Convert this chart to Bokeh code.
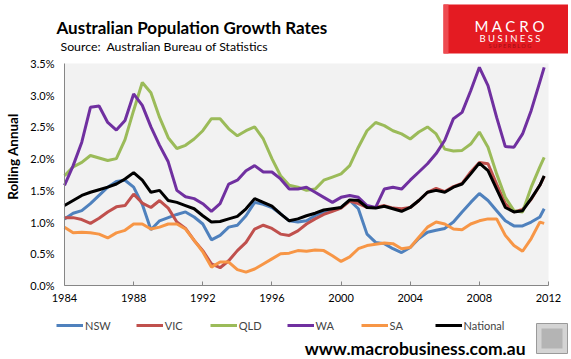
import math
from bokeh.plotting import figure
from bokeh.models import (Range1d, FixedTicker, PrintfTickFormatter, Label,
                          Legend, LegendItem, BoxAnnotation)
from bokeh.embed import file_html
from bokeh.resources import INLINE

years = [1984.0 + 0.5 * i for i in range(56)] + [2011.75]

nsw = [1.05, 1.14, 1.18, 1.29, 1.42, 1.55, 1.64, 1.66, 1.55, 1.28,
       0.88, 1.02, 1.07, 1.12, 1.16, 1.08, 0.97, 0.72, 0.79, 0.92,
       0.95, 1.10, 1.31, 1.28, 1.23, 1.13, 1.02, 1.00, 1.02, 1.10,
       1.16, 1.18, 1.23, 1.34, 1.21, 0.81, 0.68, 0.66, 0.58, 0.52,
       0.60, 0.74, 0.84, 0.87, 0.90, 1.00, 1.16, 1.31, 1.45, 1.34,
       1.18, 1.02, 0.94, 0.94, 1.00, 1.08, 1.21]
vic = [1.07, 1.07, 1.04, 0.98, 1.06, 1.16, 1.24, 1.26, 1.44, 1.30,
       1.23, 1.34, 1.22, 1.00, 0.90, 0.71, 0.55, 0.34, 0.28, 0.39,
       0.55, 0.68, 0.89, 0.95, 0.90, 0.81, 0.79, 0.86, 0.97, 1.05,
       1.12, 1.17, 1.22, 1.33, 1.29, 1.23, 1.23, 1.26, 1.22, 1.21,
       1.23, 1.34, 1.47, 1.53, 1.48, 1.56, 1.61, 1.79, 1.94, 1.92,
       1.60, 1.29, 1.16, 1.20, 1.36, 1.58, 1.72]
qld = [1.73, 1.87, 1.94, 2.05, 2.01, 1.97, 2.00, 2.30, 2.76, 3.20,
       3.04, 2.65, 2.33, 2.16, 2.21, 2.31, 2.44, 2.63, 2.63, 2.47,
       2.36, 2.44, 2.50, 2.31, 2.00, 1.73, 1.58, 1.55, 1.50, 1.52,
       1.66, 1.71, 1.76, 1.89, 2.18, 2.44, 2.57, 2.52, 2.44, 2.39,
       2.31, 2.42, 2.50, 2.39, 2.15, 2.12, 2.13, 2.23, 2.42, 2.18,
       1.76, 1.39, 1.18, 1.16, 1.55, 1.87, 2.02]
wa = [1.58, 1.89, 2.26, 2.81, 2.83, 2.57, 2.45, 2.60, 3.02, 2.84,
      2.50, 2.21, 1.95, 1.50, 1.40, 1.37, 1.29, 1.17, 1.29, 1.60,
      1.66, 1.81, 1.89, 1.79, 1.79, 1.68, 1.52, 1.52, 1.55, 1.47,
      1.39, 1.31, 1.39, 1.42, 1.39, 1.26, 1.23, 1.52, 1.55, 1.52,
      1.66, 1.79, 1.92, 2.08, 2.29, 2.63, 2.73, 3.07, 3.44, 3.15,
      2.65, 2.19, 2.18, 2.39, 2.76, 3.21, 3.44]
sa = [0.92, 0.83, 0.84, 0.83, 0.81, 0.75, 0.83, 0.87, 0.97, 0.97,
      0.89, 0.92, 0.97, 0.97, 0.89, 0.71, 0.53, 0.29, 0.37, 0.37,
      0.25, 0.21, 0.26, 0.34, 0.42, 0.50, 0.51, 0.55, 0.54, 0.56,
      0.55, 0.47, 0.38, 0.45, 0.58, 0.63, 0.65, 0.67, 0.66, 0.58,
      0.60, 0.76, 0.92, 1.00, 0.97, 0.89, 0.88, 0.97, 1.02, 1.05,
      1.05, 0.79, 0.63, 0.54, 0.74, 1.00, 0.98]
national = [1.26, 1.34, 1.42, 1.47, 1.51, 1.55, 1.60, 1.68, 1.78, 1.66,
            1.47, 1.50, 1.34, 1.31, 1.26, 1.21, 1.10, 1.00, 1.01, 1.05,
            1.09, 1.21, 1.37, 1.31, 1.25, 1.13, 1.02, 1.05, 1.10, 1.14,
            1.19, 1.21, 1.23, 1.35, 1.34, 1.23, 1.22, 1.25, 1.21, 1.17,
            1.23, 1.34, 1.47, 1.50, 1.47, 1.55, 1.60, 1.76, 1.93, 1.81,
            1.52, 1.23, 1.16, 1.18, 1.37, 1.58, 1.73]

series_names = ["NSW", "VIC", "QLD", "WA", "SA", "National"]
series_values = [nsw, vic, qld, wa, sa, national]
series_colors = ["#4f81bd", "#c0504d", "#9bbb59", "#7030a0", "#f79646", "#000000"]

x_ticks = [1984, 1988, 1992, 1996, 2000, 2004, 2008, 2012]
y_ticks = [0.0, 0.5, 1.0, 1.5, 2.0, 2.5, 3.0, 3.5]

title_text = "Australian Population Growth Rates"
subtitle_text = "Source:\u00a0 Australian Bureau of Statistics"
y_label = "Rolling Annual"
url_text = "www.macrobusiness.com.au"

FONT = "Lato"

# ---- canvas geometry (pixels, y from the top) ----
W, H = 568, 358
PL, PR, PT, PB = 64, 548, 63, 285

x0, x1 = x_ticks[0], x_ticks[-1]
y0, y1 = y_ticks[0], y_ticks[-1]
kx = (x1 - x0) / (PR - PL)
ky = (y1 - y0) / (PB - PT)
x_range = Range1d(x0 - PL * kx, x1 + (W - PR) * kx)
y_range = Range1d(y0 - (H - PB) * ky, y1 + PT * ky)

p = figure(width=W, height=H, output_backend="svg", toolbar_location=None,
           x_range=x_range, y_range=y_range,
           min_border=0, min_border_left=0, min_border_right=0,
           min_border_top=0, min_border_bottom=0)
p.background_fill_color = "white"
p.border_fill_color = "white"
p.outline_line_color = None
p.grid.visible = False

# plot-area background
p.quad(left=[x0], right=[x1], bottom=[y0], top=[y1],
       fill_color="#f2f2f2", line_color=None, level="underlay")

for ax in (p.xaxis[0], p.yaxis[0]):
    ax.axis_line_color = "#868686"
    ax.major_tick_line_color = "#868686"
    ax.minor_tick_line_color = None
    ax.major_label_text_font = FONT
    ax.major_label_text_font_size = "11px"
    ax.major_label_text_color = "#000000"

p.xaxis.fixed_location = y0
p.xaxis.bounds = (x0, x1)
p.xaxis.ticker = FixedTicker(ticks=x_ticks)
p.xaxis.major_tick_in = 4
p.xaxis.major_tick_out = 0
p.xaxis.major_label_standoff = 8

p.yaxis.fixed_location = x0
p.yaxis.bounds = (y0, y1)
p.yaxis.ticker = FixedTicker(ticks=y_ticks)
p.yaxis.formatter = PrintfTickFormatter(format="%.1f%%")
p.yaxis.major_tick_in = 0
p.yaxis.major_tick_out = 0
p.yaxis.major_label_standoff = 10

items = []
for name, vals, col in zip(series_names, series_values, series_colors):
    r = p.line(years, vals, line_color=col, line_width=3)
    items.append(LegendItem(label=name, renderers=[r]))

legend = Legend(items=items, orientation="horizontal", location=(56, H - 332),
                glyph_width=27, glyph_height=14, label_standoff=2, spacing=25,
                padding=0, margin=0, border_line_color=None,
                background_fill_alpha=0, label_text_font=FONT,
                label_text_font_size="11px", label_height=14)
p.add_layout(legend, "center")


def lab(text, x, y, size, bold=False, color="#000000", align="left",
        baseline="alphabetic", angle=0.0):
    # x, y: canvas pixels measured from the top-left
    p.add_layout(Label(x=x, y=H - y, x_units="screen", y_units="screen",
                       text=text, text_font=FONT, text_font_size=size,
                       text_font_style="bold" if bold else "normal",
                       text_color=color, text_align=align,
                       text_baseline=baseline, angle=angle))


def box(l, r, t, b, fill, line=None):
    p.add_layout(BoxAnnotation(left=l, right=r, top=H - t, bottom=H - b,
                               left_units="screen", right_units="screen",
                               top_units="screen", bottom_units="screen",
                               fill_color=fill, fill_alpha=1,
                               line_color=line, line_width=1, line_alpha=1,
                               level="annotation"))


lab(title_text, 56, 27, "17px", bold=True)
lab(subtitle_text, 60, 45.5, "12.3px")
lab(y_label, 12, 156, "13.5px", bold=True, align="center",
    baseline="middle", angle=math.pi / 2)
lab(url_text, 525, 348, "17.5px", bold=True, align="right")

# logo
box(443, 568, 4, 53, "#e41b22")
box(443, 448, 4, 53, "#ee4a50")
lab("M A C R O", 509.5, 25, "15px", color="white", align="center")
lab("B U S I N E S S", 509.5, 37.5, "9.5px", color="white", align="center")
lab("S U P E R B L O G", 509.5, 45.5, "5.5px", color="#a01015", align="center")

# wolf badge
box(536, 567, 323, 353, "#d4d4d4", line="#9a9a9a")
box(541, 562, 328, 348, "#b4b4b4")

open("out.html", "w").write(file_html(p, INLINE))
